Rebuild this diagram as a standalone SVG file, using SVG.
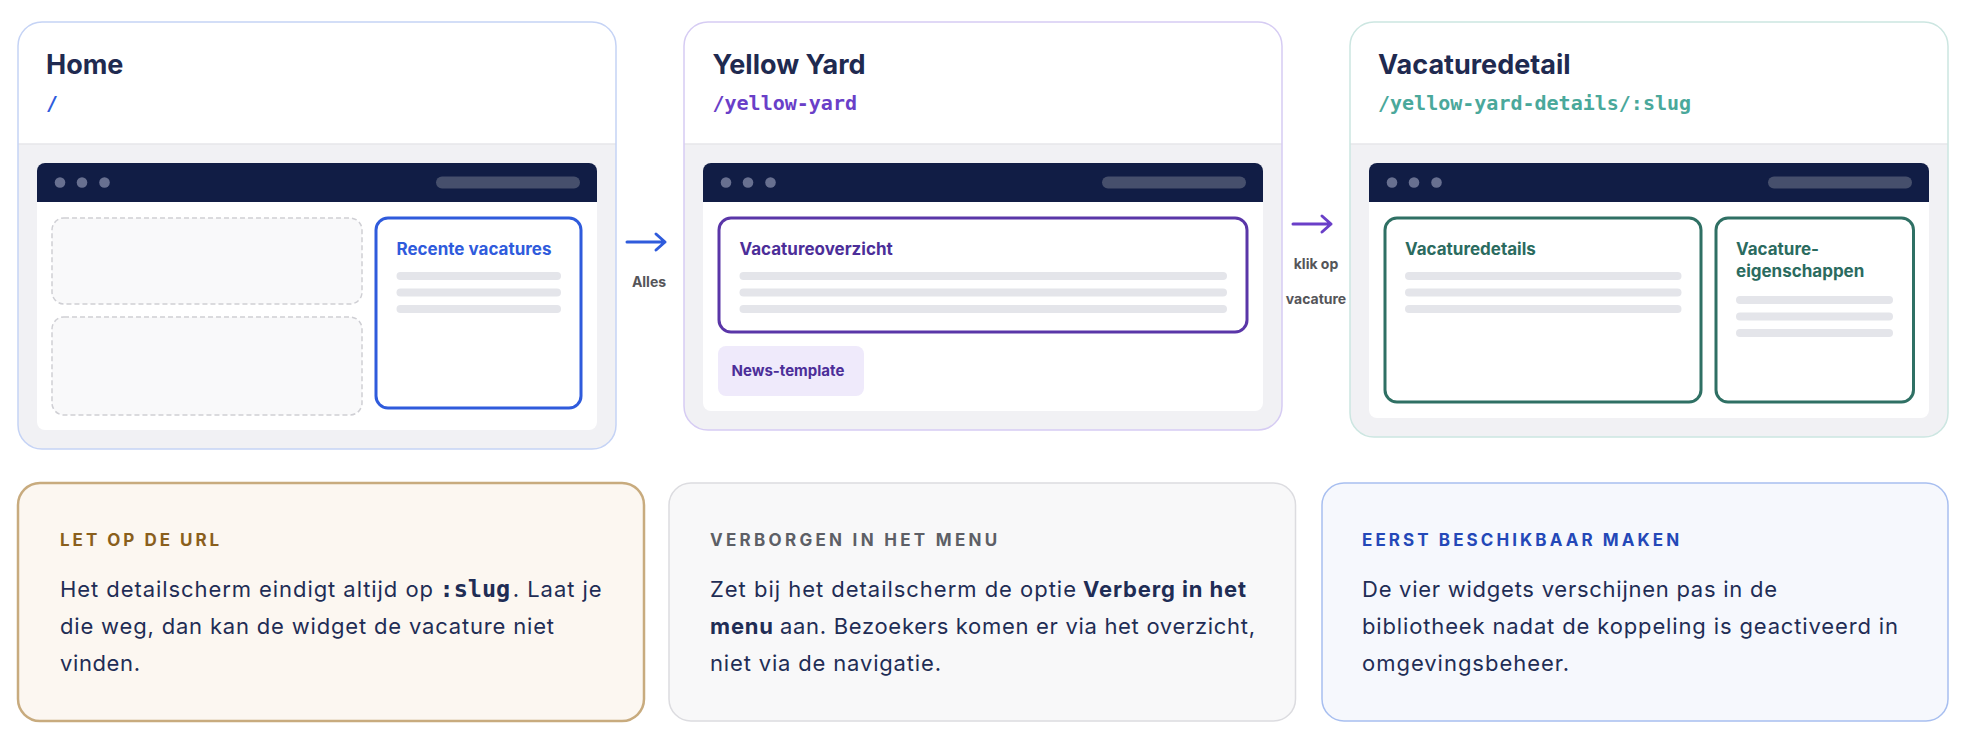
<svg xmlns="http://www.w3.org/2000/svg" width="1970" height="752" viewBox="0 0 1970 752">
<style>
.title{font-family:Inter,"Liberation Sans",sans-serif;font-weight:700;font-size:27px;fill:#1f2a50}
.url{font-family:"DejaVu Sans Mono","Liberation Mono",monospace;font-weight:700;font-size:20px}
.card{fill:#f1f1f4}
.head{fill:#ffffff}
.sep{stroke:#e6e6ea;stroke-width:1.5}
.bar{fill:#111d45}
.dot{fill:#687090}
.urlbar{fill:#464f6c}
.win{fill:#ffffff}
.dash{fill:#f9f9fa;stroke:#cfcfd4;stroke-width:1.5;stroke-dasharray:5 3}
.skel{fill:#e4e5ea}
.lbl{font-family:Inter,"Liberation Sans",sans-serif;font-weight:700;font-size:17px}
.conn{fill:none;stroke-width:3;stroke-linecap:round;stroke-linejoin:round}
.clbl{font-family:Inter,"Liberation Sans",sans-serif;font-weight:700;font-size:14px;fill:#555559;text-anchor:middle}
.note-h{font-family:Inter,"Liberation Sans",sans-serif;font-weight:700;font-size:17px;letter-spacing:2.8px}
.note-b{font-family:Inter,"Liberation Sans",sans-serif;font-size:22px;fill:#1f2d55}
.bold{font-weight:700}
.mono{font-family:"DejaVu Sans Mono","Liberation Mono",monospace;font-weight:700;font-size:23.5px;fill:#1f2d55}
</style>
<rect width="1970" height="752" fill="#ffffff"/>

<g id="connectors">
  <g id="edge-home-yellow">
    <path class="conn" stroke="#2f5bdc" d="M627 242 H665 M656 234 L665 242 L656 250"/>
    <text class="clbl" x="649" y="287">Alles</text>
  </g>
  <g id="edge-yellow-detail">
    <path class="conn" stroke="#6a3fc8" d="M1293 224 H1331 M1322 216 L1331 224 L1322 232"/>
    <text class="clbl" x="1316" y="269">klik op</text>
    <text class="clbl" x="1316" y="304">vacature</text>
  </g>
</g>

<g id="node-home">
  <rect class="card" x="18" y="22" width="598" height="427" rx="24"/>
  <path class="head" d="M18 144 V46 A24 24 0 0 1 42 22 H592 A24 24 0 0 1 616 46 V144 Z"/>
  <line class="sep" x1="18" y1="144" x2="616" y2="144"/>
  <rect x="18" y="22" width="598" height="427" rx="24" fill="none" stroke="#c5d3f5" stroke-width="1.5"/>
  <text class="title" x="46" y="74">Home</text>
  <text class="url" x="46" y="110" fill="#2f5bdc">/</text>
  <rect class="win" x="37" y="163" width="560" height="267" rx="8"/>
  <path class="bar" d="M37 202 V171 A8 8 0 0 1 45 163 H589 A8 8 0 0 1 597 171 V202 Z"/>
  <circle class="dot" cx="60" cy="182.5" r="5.3"/>
  <circle class="dot" cx="82" cy="182.5" r="5.3"/>
  <circle class="dot" cx="104.5" cy="182.5" r="5.3"/>
  <rect class="urlbar" x="436" y="176.5" width="144" height="12" rx="6"/>
  <rect class="dash" x="52" y="218" width="310" height="86" rx="12"/>
  <rect class="dash" x="52" y="317" width="310" height="98" rx="12"/>
  <rect x="376" y="218" width="205" height="190" rx="12" fill="#ffffff" stroke="#2f5bdc" stroke-width="3"/>
  <text class="lbl" x="396.5" y="255" fill="#2f5bdc">Recente vacatures</text>
  <rect class="skel" x="396.5" y="272" width="164.5" height="8" rx="4"/>
  <rect class="skel" x="396.5" y="288.5" width="164.5" height="8" rx="4"/>
  <rect class="skel" x="396.5" y="305" width="164.5" height="8" rx="4"/>
</g>

<g id="node-yellow-yard">
  <rect class="card" x="684" y="22" width="598" height="408" rx="24"/>
  <path class="head" d="M684 144 V46 A24 24 0 0 1 708 22 H1258 A24 24 0 0 1 1282 46 V144 Z"/>
  <line class="sep" x1="684" y1="144" x2="1282" y2="144"/>
  <rect x="684" y="22" width="598" height="408" rx="24" fill="none" stroke="#d6ccf3" stroke-width="1.5"/>
  <text class="title" x="712.5" y="74">Yellow Yard</text>
  <text class="url" x="712.5" y="110" fill="#6a3fc8">/yellow-yard</text>
  <rect class="win" x="703" y="163" width="560" height="248" rx="8"/>
  <path class="bar" d="M703 202 V171 A8 8 0 0 1 711 163 H1255 A8 8 0 0 1 1263 171 V202 Z"/>
  <circle class="dot" cx="726" cy="182.5" r="5.3"/>
  <circle class="dot" cx="748" cy="182.5" r="5.3"/>
  <circle class="dot" cx="770.5" cy="182.5" r="5.3"/>
  <rect class="urlbar" x="1102" y="176.5" width="144" height="12" rx="6"/>
  <rect x="719" y="218" width="528" height="114" rx="12" fill="#ffffff" stroke="#5a36a8" stroke-width="3"/>
  <text class="lbl" x="739.5" y="255" fill="#4c2e99">Vacatureoverzicht</text>
  <rect class="skel" x="739.5" y="272" width="487.5" height="8" rx="4"/>
  <rect class="skel" x="739.5" y="288.5" width="487.5" height="8" rx="4"/>
  <rect class="skel" x="739.5" y="305" width="487.5" height="8" rx="4"/>
  <rect x="718" y="346" width="146" height="50" rx="8" fill="#efeafb"/>
  <text x="731.5" y="376" font-family="Inter, 'Liberation Sans', sans-serif" font-weight="700" font-size="15" fill="#4c2e99">News-template</text>
</g>

<g id="node-vacaturedetail">
  <rect class="card" x="1350" y="22" width="598" height="415" rx="24"/>
  <path class="head" d="M1350 144 V46 A24 24 0 0 1 1374 22 H1924 A24 24 0 0 1 1948 46 V144 Z"/>
  <line class="sep" x1="1350" y1="144" x2="1948" y2="144"/>
  <rect x="1350" y="22" width="598" height="415" rx="24" fill="none" stroke="#cce6e1" stroke-width="1.5"/>
  <text class="title" x="1378" y="74">Vacaturedetail</text>
  <text class="url" x="1378" y="110" fill="#4aa89b">/yellow-yard-details/:slug</text>
  <rect class="win" x="1369" y="163" width="560" height="255" rx="8"/>
  <path class="bar" d="M1369 202 V171 A8 8 0 0 1 1377 163 H1921 A8 8 0 0 1 1929 171 V202 Z"/>
  <circle class="dot" cx="1392" cy="182.5" r="5.3"/>
  <circle class="dot" cx="1414" cy="182.5" r="5.3"/>
  <circle class="dot" cx="1436.5" cy="182.5" r="5.3"/>
  <rect class="urlbar" x="1768" y="176.5" width="144" height="12" rx="6"/>
  <rect x="1385" y="218" width="316" height="184" rx="12" fill="#ffffff" stroke="#2f7064" stroke-width="3"/>
  <text class="lbl" x="1405" y="255" fill="#2b6b5f">Vacaturedetails</text>
  <rect class="skel" x="1405" y="272" width="276.5" height="8" rx="4"/>
  <rect class="skel" x="1405" y="288.5" width="276.5" height="8" rx="4"/>
  <rect class="skel" x="1405" y="305" width="276.5" height="8" rx="4"/>
  <rect x="1716" y="218" width="197.5" height="184" rx="12" fill="#ffffff" stroke="#2f7064" stroke-width="3"/>
  <text class="lbl" x="1736" y="255" fill="#2b6b5f">Vacature-</text>
  <text class="lbl" x="1736" y="277" fill="#2b6b5f">eigenschappen</text>
  <rect class="skel" x="1736" y="296" width="157" height="8" rx="4"/>
  <rect class="skel" x="1736" y="312.5" width="157" height="8" rx="4"/>
  <rect class="skel" x="1736" y="329" width="157" height="8" rx="4"/>
</g>

<g id="note-url">
  <rect x="18" y="483" width="626" height="238" rx="22" fill="#fcf7f1" stroke="#c8ab7e" stroke-width="2.5"/>
  <text class="note-h" x="60" y="546" fill="#8a5f1c" textLength="162">LET OP DE URL</text>
  <text class="note-b" x="60" y="597" textLength="373">Het detailscherm eindigt altijd op</text>
  <text class="mono" x="439.5" y="597">:slug</text>
  <text class="note-b" x="512.7" y="597" textLength="89">. Laat je</text>
  <text class="note-b" x="60" y="634" textLength="494">die weg, dan kan de widget de vacature niet</text>
  <text class="note-b" x="60" y="671" textLength="80">vinden.</text>
</g>

<g id="note-menu">
  <rect x="669" y="483" width="626.5" height="238" rx="22" fill="#f8f8f9" stroke="#dcdce0" stroke-width="1.5"/>
  <text class="note-h" x="710" y="546" fill="#5d5f66" textLength="290">VERBORGEN IN HET MENU</text>
  <text class="note-b" x="710" y="597" textLength="366">Zet bij het detailscherm de optie</text>
  <text class="note-b bold" x="1083" y="597" textLength="163">Verberg in het</text>
  <text class="note-b bold" x="710" y="634" textLength="63">menu</text>
  <text class="note-b" x="780" y="634" textLength="475">aan. Bezoekers komen er via het overzicht,</text>
  <text class="note-b" x="710" y="671" textLength="231">niet via de navigatie.</text>
</g>

<g id="note-activate">
  <rect x="1322" y="483" width="626" height="238" rx="22" fill="#f6f8fd" stroke="#a8bff0" stroke-width="1.5"/>
  <text class="note-h" x="1362" y="546" fill="#2448b8" textLength="320">EERST BESCHIKBAAR MAKEN</text>
  <text class="note-b" x="1362" y="597" textLength="415">De vier widgets verschijnen pas in de</text>
  <text class="note-b" x="1362" y="634" textLength="536">bibliotheek nadat de koppeling is geactiveerd in</text>
  <text class="note-b" x="1362" y="671" textLength="207">omgevingsbeheer.</text>
</g>
</svg>
